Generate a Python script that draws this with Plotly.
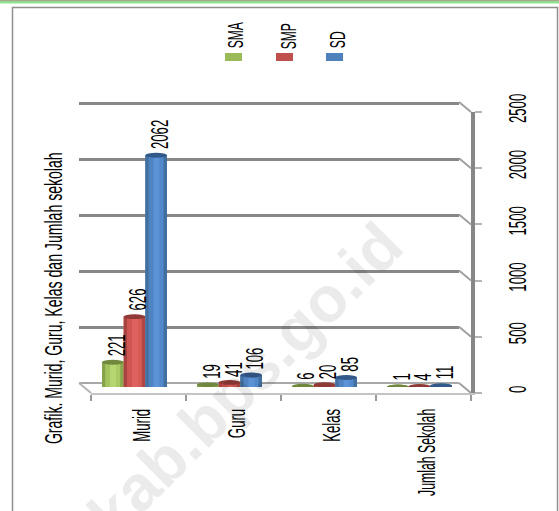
import plotly.graph_objects as go

categories = ["Murid", "Guru", "Kelas", "Jumlah Sekolah"]
sma = [221, 19, 6, 1]
smp = [626, 41, 20, 4]
sd = [2062, 106, 85, 11]
y_ticks = [0, 500, 1000, 1500, 2000, 2500]
series_names = ["SMA", "SMP", "SD"]
title_text = "Grafik. Murid, Guru, Kelas dan Jumlah sekolah"
watermark_text = "kab.bps.go.id"

W, H = 559, 511
FONT = "Liberation Sans, Arial, sans-serif"
px = lambda v: v / W
py = lambda v: 1 - v / H

RAMPS = [
    ["#86a34a", "#a3c35f", "#b6d672", "#a9c965", "#8aa84e", "#6f883d"],
    ["#a8433f", "#cf5552", "#e0625e", "#d65a56", "#b04744", "#8a3532"],
    ["#44709f", "#4f83c2", "#5b93d6", "#5288ca", "#426f9f", "#2d4f78"],
]
CAPS = ["#6f883d", "#8f3a37", "#33598a"]
GRID = "#878787"
bar_w = 0.228
STRIPS = [(0.0, 1.0), (0.0, 0.16), (0.16, 0.38), (0.38, 0.66), (0.66, 0.84), (0.84, 1.0)]

fig = go.Figure()
vals = [sma, smp, sd]
idx = list(range(len(categories)))

fig.add_trace(go.Scatter(x=categories, y=[0] * 4, mode="markers", marker=dict(opacity=0),
                         xaxis="x", yaxis="y", hoverinfo="skip"))

shapes = []
annots = []
for j, (v, ramp) in enumerate(zip(vals, RAMPS)):
    left = (j - 1.5) * bar_w
    for k, (a, b) in enumerate(STRIPS):
        col = ramp[k - 1] if k else ramp[3]
        fig.add_trace(go.Bar(
            x=categories, y=v, xaxis="x2", yaxis="y2",
            width=[bar_w * (b - a)] * 4, offset=[left + bar_w * a] * 4,
            marker=dict(color=col, line=dict(width=0)),
            hoverinfo="skip",
        ))
    for i in idx:
        cx = i + left + bar_w / 2
        shapes.append(dict(type="circle", xref="x2", yref="y2", layer="above",
                           x0=cx - bar_w / 2, x1=cx + bar_w / 2, y0=v[i] - 22, y1=v[i] + 22,
                           fillcolor=CAPS[j], line=dict(width=0)))
        shapes.append(dict(type="circle", xref="x2", yref="y2", layer="below",
                           x0=cx - bar_w / 2, x1=cx + bar_w / 2, y0=-22, y1=22,
                           fillcolor=ramp[5], line=dict(width=0)))
        n = len(str(v[i]))
        annots.append(dict(x=cx + 0.035, y=v[i], xref="x2", yref="y2", text=str(v[i]), textangle=-90,
                           showarrow=False, yanchor="middle", xanchor="center", yshift=6 + n * 3.65,
                           font=dict(family=FONT, size=24, color="#000")))

fig.add_trace(go.Scatter(x=categories, y=[0] * 4, mode="markers", marker=dict(opacity=0),
                         xaxis="x3", yaxis="y3", hoverinfo="skip"))
fig.add_trace(go.Scatter(x=categories, y=[0] * 4, mode="markers", marker=dict(opacity=0),
                         xaxis="x4", yaxis="y3", hoverinfo="skip"))

BX, BY, FX, FY = 459, 383, 471, 393
unit = (393 - 112) / 2500
for t in y_ticks:
    y = t * unit
    shapes.append(dict(type="line", xref="paper", yref="paper", x0=px(BX), x1=px(FX),
                       y0=py(BY - y), y1=py(FY - y), line=dict(color="#a0a0a0", width=2)))
shapes.append(dict(type="line", xref="paper", yref="paper", x0=px(79), x1=px(91),
                   y0=py(383), y1=py(393), line=dict(color="#b5b5b5", width=2)))

shapes.append(dict(type="rect", xref="paper", yref="paper", x0=px(12.5), x1=px(557.5),
                   y0=py(7.5), y1=py(530), line=dict(color="#8f8f8f", width=1.5), layer="below"))
shapes.append(dict(type="rect", xref="paper", yref="paper", x0=0, x1=1, y0=py(3.5), y1=1,
                   fillcolor="#8fe58f", line=dict(width=0), layer="below"))
shapes.append(dict(type="rect", xref="paper", yref="paper", x0=0, x1=1, y0=py(1.2), y1=1,
                   fillcolor="#a9a88e", line=dict(width=0), layer="below"))

legend_pos = [(225, 235, 35), (276, 288, 36), (326, 337, 40)]
for name, (x0, lx, ly), col in zip(series_names, legend_pos, ["#9bbb59", "#c0504d", "#4f81bd"]):
    shapes.append(dict(type="rect", xref="paper", yref="paper", x0=px(x0), x1=px(x0 + 17),
                       y0=py(61), y1=py(53), fillcolor=col, line=dict(width=0)))
    annots.append(dict(x=px(lx), y=py(ly), xref="paper", yref="paper", text=name, textangle=-90,
                       showarrow=False, yanchor="middle", xanchor="center",
                       font=dict(family=FONT, size=22, color="#000")))
annots.append(dict(x=px(53), y=py(298), xref="paper", yref="paper", text=title_text, textangle=-90,
                   showarrow=False, xanchor="center", yanchor="middle",
                   font=dict(family=FONT, size=24, color="#000")))
annots.append(dict(x=px(245), y=py(380), xref="paper", yref="paper", text="<b>" + watermark_text + "</b>",
                   textangle=-45, showarrow=False, xanchor="center", yanchor="middle",
                   font=dict(family=FONT, size=64, color="rgba(0,0,0,0.08)")))
for a in annots:
    fig.add_annotation(**a)

common_x = dict(type="category", categoryorder="array", categoryarray=categories, range=[-0.5, 3.5],
                automargin=False)
fig.update_layout(
    width=W, height=H, margin=dict(l=0, r=0, t=0, b=0), autosize=False,
    paper_bgcolor="white", plot_bgcolor="rgba(0,0,0,0)", showlegend=False,
    barmode="overlay", shapes=shapes,
    font=dict(family=FONT, color="#000"),
    xaxis=dict(**common_x, domain=[px(79), px(459)], anchor="y", showgrid=False, showticklabels=False,
               ticks="", showline=False, zeroline=False),
    yaxis=dict(domain=[py(383), py(383 - 2520 * 0.112)], range=[0, 2520], anchor="x", tickvals=y_ticks,
               showgrid=True, gridcolor=GRID, gridwidth=2.5, showticklabels=False, ticks="", zeroline=True,
               zerolinecolor="#a8a8a8", zerolinewidth=2, showline=False, automargin=False),
    xaxis2=dict(**common_x, domain=[px(87), px(467)], anchor="y2", visible=False),
    yaxis2=dict(domain=[py(387), py(106)], range=[0, 2500], anchor="x2", visible=False, automargin=False),
    xaxis3=dict(**common_x, domain=[px(91), px(471)], anchor="y3", showgrid=False, tickson="boundaries",
                ticks="outside", ticklen=6, tickwidth=2, tickcolor="#9a9a9a", showline=True,
                linecolor="#c4c4c4", linewidth=2, showticklabels=False, zeroline=False),
    xaxis4=dict(**common_x, domain=[px(95), px(475)], anchor="y3", showgrid=False, ticks="", showline=False,
                tickangle=-90, ticklabelstandoff=10, zeroline=False,
                tickfont=dict(family=FONT, size=24, color="#000")),
    yaxis3=dict(domain=[py(393), py(112)], range=[0, 2500], anchor="x3", side="right", tickvals=y_ticks,
                showgrid=False, ticks="outside", ticklen=7, tickwidth=1.5, tickcolor="#b5b5b5", showline=True,
                linecolor=GRID, linewidth=3.5, tickangle=-90, ticklabelstandoff=15, zeroline=False,
                automargin=False, tickfont=dict(family=FONT, size=24, color="#000")),
)

post = """
document.body.style.margin='0';
document.documentElement.style.overflow='hidden';
document.querySelectorAll('svg.main-svg text').forEach(function(el){
  var s=el.textContent||'';
  if(s.indexOf('kab.bps')>=0) return;
  var sx = s.indexOf('Grafik')>=0 ? 0.587 : (s.indexOf('Jumlah')>=0 ? 0.51 : 0.55);
  var x=parseFloat(el.getAttribute('x'))||0, y=parseFloat(el.getAttribute('y'))||0;
  var t=el.getAttribute('transform')||'';
  el.setAttribute('transform', t+' translate('+x+','+y+') scale('+sx+',1) translate('+(-x)+','+(-y)+')');
});
"""
fig.write_html("out.html", post_script=post, config=dict(displayModeBar=False))
